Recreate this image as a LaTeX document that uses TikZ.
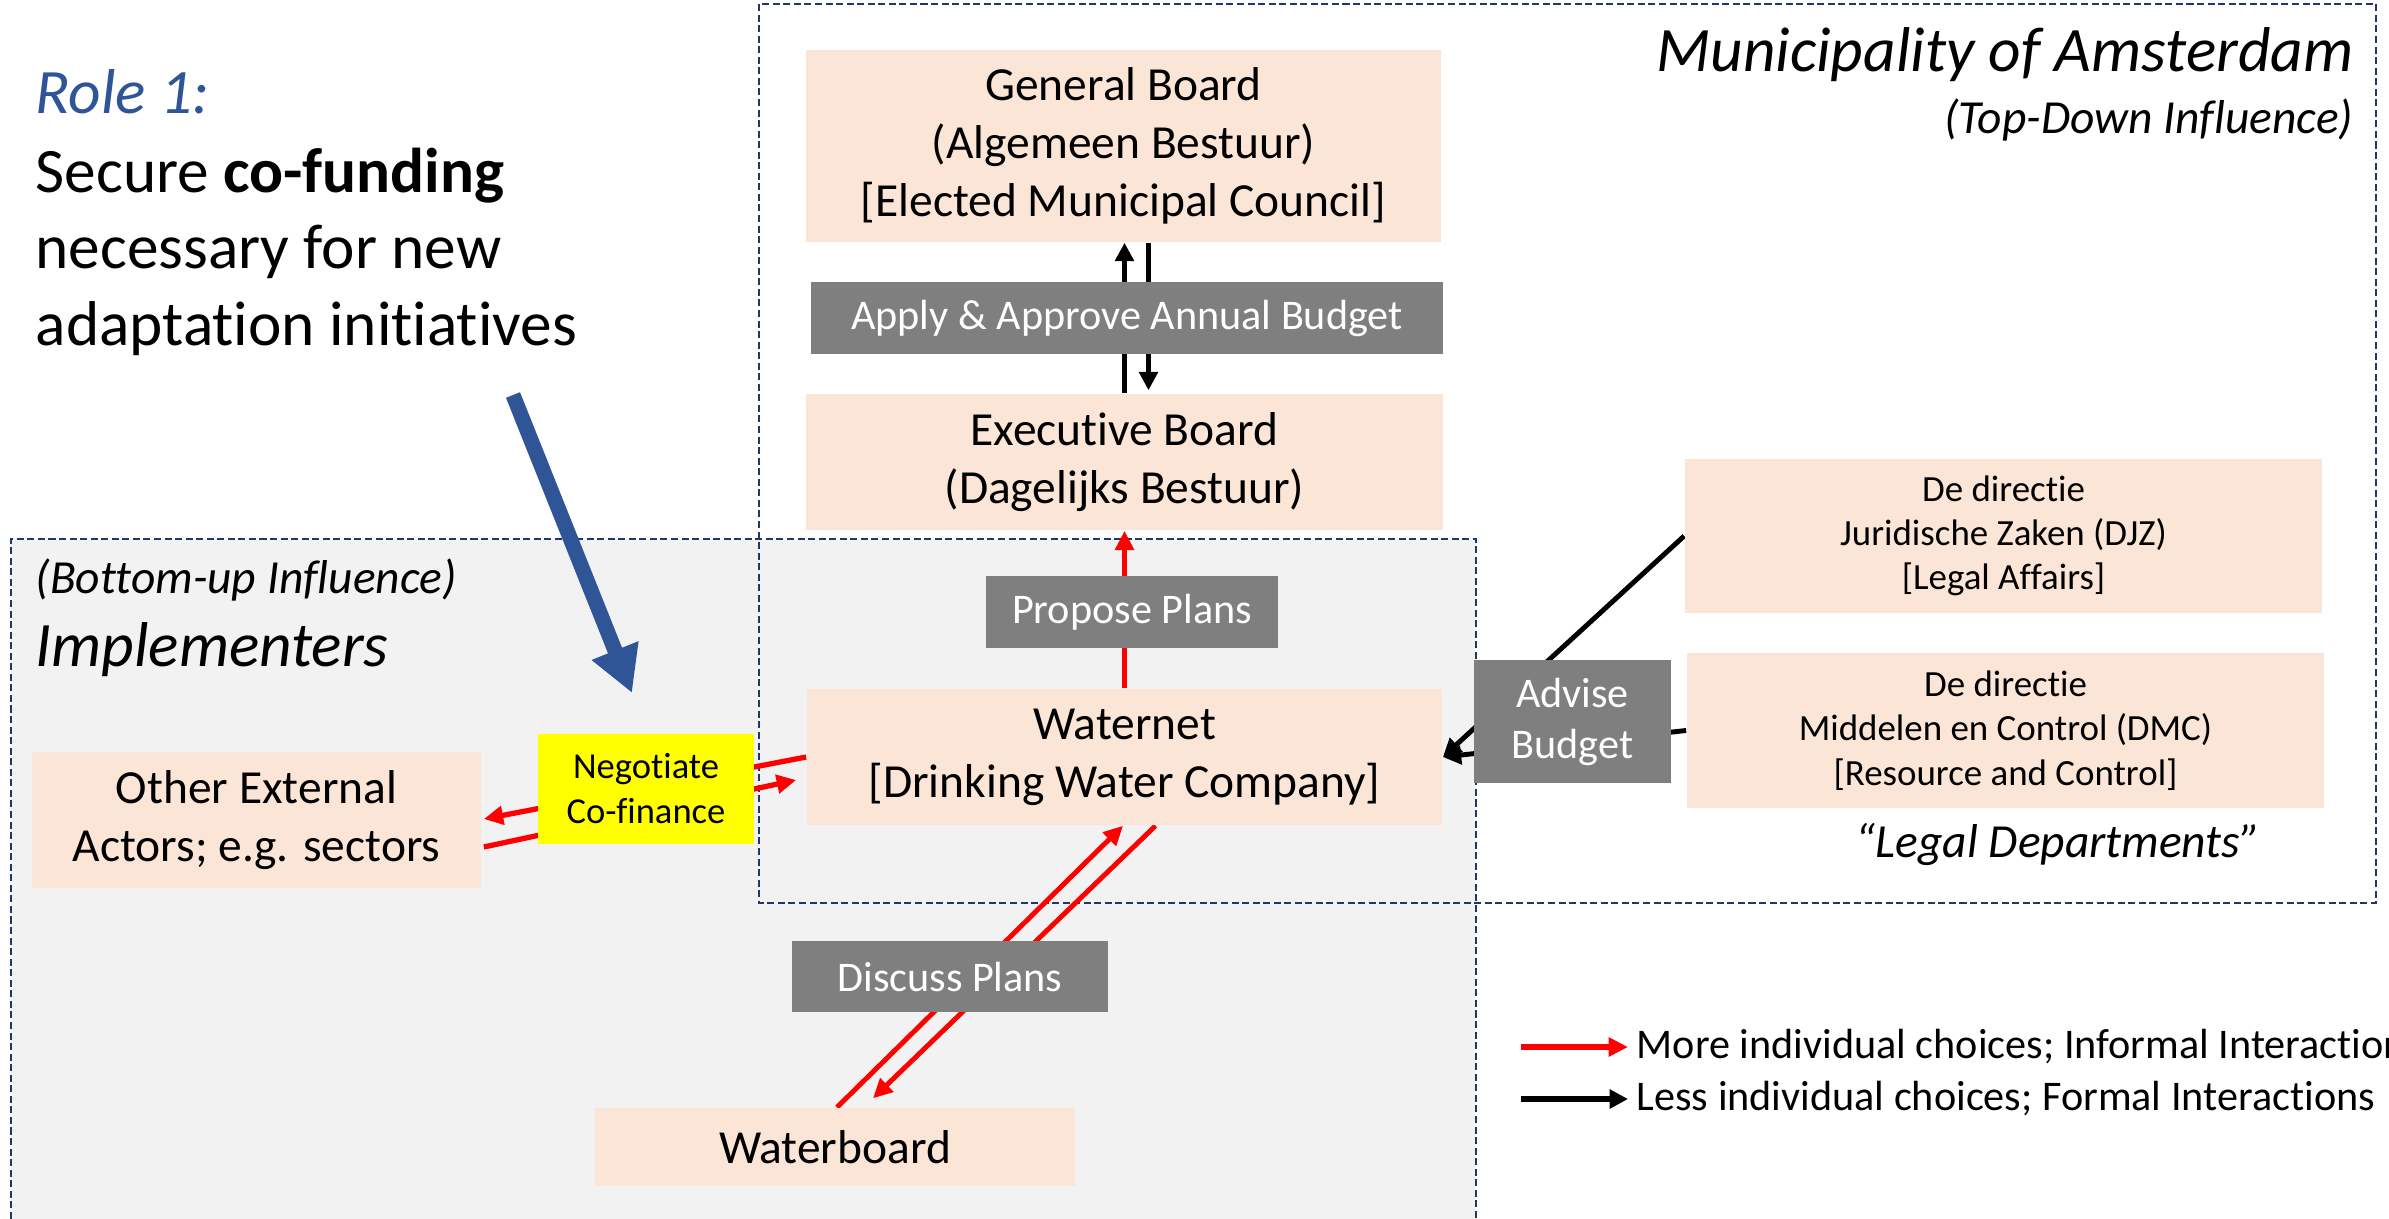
\documentclass[tikz,border=0pt]{standalone}
\usepackage{fontspec}
\setmainfont[Ligatures={TeX,NoCommon}]{Carlito}
\usetikzlibrary{arrows.meta,calc}
\definecolor{peach}{HTML}{FBE5D6}
\definecolor{labgray}{HTML}{7F7F7F}
\definecolor{implgray}{HTML}{F2F2F2}
\definecolor{navy}{HTML}{203864}
\definecolor{roleblue}{HTML}{2F5597}
\definecolor{ared}{HTML}{FF0000}
\definecolor{ayellow}{HTML}{FFFF00}
\pgfdeclarelayer{bg}
\pgfdeclarelayer{edges}
\pgfsetlayers{bg,edges,main}
\begin{document}
\begin{tikzpicture}[x=0.01cm,y=-0.01cm,
  pbox/.style={fill=peach, inner sep=0pt, align=center, text=black, font=\fontsize{13.5}{16.4}\selectfont},
  smallbox/.style={pbox, font=\fontsize{10.5}{12.6}\selectfont},
  gbox/.style={fill=labgray, inner sep=0pt, align=center, text=white, font=\fontsize{12}{14.5}\selectfont},
  ybox/.style={fill=ayellow, inner sep=0pt, align=center, text=black, font=\fontsize{10.4}{12.8}\selectfont},
  container/.style={draw=navy, line width=0.7pt, dash pattern=on 2pt off 1pt},
  blackarr/.style={draw=black, line width=1.6pt, -{Triangle[length=5.2pt,width=5.2pt]}},
  redarr/.style={draw=ared, line width=1.4pt, -{Triangle[length=5.5pt,width=5.2pt]}},
  bluearr/.style={draw=roleblue, line width=4.3pt, -{Triangle[length=13pt,width=13.4pt]}},
  bigtxt/.style={inner sep=0pt, font=\fontsize{18}{22}\selectfont},
  midtxt/.style={inner sep=0pt, font=\fontsize{13.5}{16.4}\selectfont},
  legtxt/.style={inner sep=0pt, font=\fontsize{12}{14.5}\selectfont}
]
\useasboundingbox (0,0) rectangle (2389,1218);
\clip (0,0) rectangle (2389,1218);

% containers
\begin{pgfonlayer}{bg}
  \fill[implgray] (11,539) rectangle (1476,1240);
  \draw[container] (11,1240) -- (11,539) -- (1476,539) -- (1476,1240);
  \draw[container] (759,4) rectangle (2376,903);
\end{pgfonlayer}

% titles
\node[bigtxt, anchor=base west, text=roleblue, font=\fontsize{18}{22}\selectfont\itshape] (role) at (35,113) {Role 1:};
\node[bigtxt, anchor=base west] (r1) at (35,192) {Secure \textbf{co-funding}};
\node[bigtxt, anchor=base west] (r2) at (35,268) {necessary for new};
\node[bigtxt, anchor=base west] (r3) at (35,345) {adaptation initiatives};

\node[bigtxt, anchor=base east, font=\fontsize{18}{22}\selectfont\itshape] (muni) at (2354,71) {Municipality of Amsterdam};
\node[anchor=base east, inner sep=0pt, font=\fontsize{13.5}{16.4}\selectfont\itshape] (topdown) at (2354,133) {(Top-Down Influence)};
\node[midtxt, anchor=base west, font=\fontsize{13.5}{16.4}\selectfont\itshape] (bottomup) at (35,593) {(Bottom-up Influence)};
\node[bigtxt, anchor=base west, font=\fontsize{18}{22}\selectfont\itshape] (impl) at (35,666) {Implementers};
\node[midtxt, anchor=base, font=\fontsize{13.5}{16.4}\selectfont\itshape] (legal) at (2058,857) {“Legal Departments”};

% boxes
\node[pbox, minimum width=6.35cm, minimum height=1.92cm] (GB) at (1123.5,146) {General Board\\(Algemeen Bestuur)\\{[}Elected Municipal Council{]}};
\node[gbox, minimum width=6.32cm, minimum height=0.72cm] (AA) at (1127,318) {Apply \& Approve Annual Budget};
\node[pbox, minimum width=6.37cm, minimum height=1.36cm] (EB) at (1124.5,462) {Executive Board\\(Dagelijks Bestuur)};
\node[gbox, minimum width=2.92cm, minimum height=0.72cm] (PP) at (1132,612) {Propose Plans};
\node[pbox, minimum width=6.35cm, minimum height=1.36cm] (WN) at (1124.5,757) {Waternet\\{[}Drinking Water Company{]}};
\node[ybox, minimum width=2.16cm, minimum height=1.10cm] (NC) at (646,789) {Negotiate\\Co-finance};
\node[pbox, minimum width=4.49cm, minimum height=1.36cm] (OE) at (256.5,820) {Other External\\Actors; e.g. sectors};
\node[gbox, minimum width=3.16cm, minimum height=0.71cm] (DP) at (950,976.5) {Discuss Plans};
\node[pbox, minimum width=4.80cm, minimum height=0.78cm] (WB) at (835,1147) {Waterboard};
\node[gbox, minimum width=1.97cm, minimum height=1.23cm] (AB) at (1572.5,721.5) {Advise\\Budget};
\node[smallbox, minimum width=6.37cm, minimum height=1.54cm] (DJZ) at (2003.5,536) {De directie\\Juridische Zaken (DJZ)\\{[}Legal Affairs{]}};
\node[smallbox, minimum width=6.37cm, minimum height=1.55cm] (DMC) at (2005.5,730.5) {De directie\\Middelen en Control (DMC)\\{[}Resource and Control{]}};

% legend
\coordinate (lr1) at (1521,1047);
\coordinate (lr2) at (1628,1047);
\coordinate (lb1) at (1521,1099);
\coordinate (lb2) at (1628,1099);
\node[legtxt, anchor=base west] (legred) at (1636,1058) {More individual choices; Informal Interactions};
\node[legtxt, anchor=base west] (legblack) at (1636,1110) {Less individual choices; Formal Interactions};

% blue arrow
\coordinate (bs) at (513,395);
\coordinate (be) at (632,693);

\begin{pgfonlayer}{edges}
  \draw[blackarr] (EB.north) -- (EB.north |- GB.south);
  \draw[blackarr] ($(GB.south)+(25,0)$) -- ($(EB.north)+(24,-3)$);
  \draw[redarr] (WN.north) -- (EB.south);
  \draw[redarr] ($(WB.north)+(2,0)$) -- ($(WN.south)+(-1.5,0)$);
  \draw[redarr] ($(WN.south)+(31,0)$) -- ($(WB.north)+(38,-9)$);
  \draw[redarr, line width=1.5pt] (WN.west) -- ($(OE.east)+(2,-1)$);
  \draw[redarr, line width=1.5pt] ($(OE.east)+(2,27)$) -- ($(WN.west)+(-10,23)$);
  \draw[blackarr, line width=1.4pt] (DJZ.west) -- (WN.east);
  \draw[blackarr, line width=1.4pt] (DMC.west) -- (WN.east);
  \draw[redarr, line width=1.9pt] (lr1) -- (lr2);
  \draw[blackarr, line width=1.9pt] (lb1) -- (lb2);
  \draw[bluearr] (bs) -- (be);
\end{pgfonlayer}
\end{tikzpicture}
\end{document}
